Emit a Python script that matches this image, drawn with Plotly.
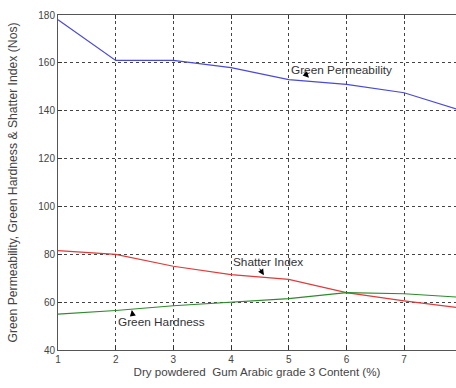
import plotly.graph_objects as go

x_content = [1, 2, 3, 4, 5, 6, 7, 8]
green_permeability = [178, 161, 161, 158, 153, 151, 147.5, 140]
shatter_index = [81.5, 80, 75, 71.5, 69.5, 64, 60.5, 57.5]
green_hardness = [55, 56.5, 58.5, 60, 61.5, 64, 63.5, 62]
x_ticks = [1, 2, 3, 4, 5, 6, 7, 8]
y_ticks = [40, 60, 80, 100, 120, 140, 160, 180]

FONT = "Liberation Sans, Arial, sans-serif"

fig = go.Figure()
fig.add_trace(go.Scatter(x=x_content, y=green_permeability, mode="lines",
                         line=dict(color="#4a4ad8", width=1.2), name="Green Permeability"))
fig.add_trace(go.Scatter(x=x_content, y=shatter_index, mode="lines",
                         line=dict(color="#e03a3a", width=1.2), name="Shatter Index"))
fig.add_trace(go.Scatter(x=x_content, y=green_hardness, mode="lines",
                         line=dict(color="#2e8a2e", width=1.2), name="Green Hardness"))

# labels: text, text x, text y, head x, head y, tail x, tail y
labels = [
    ("Green Permeability", 5.92, 157.1, 5.35, 153.75, 5.24, 156.6),
    ("Shatter Index", 4.64, 76.7, 4.57, 71.25, 4.48, 74.6),
    ("Green Hardness", 2.80, 51.7, 2.28, 56.7, 2.30, 53.9),
]
for txt, tx, ty, hx, hy, sx, sy in labels:
    fig.add_annotation(x=tx, y=ty, text=txt, showarrow=False,
                       font=dict(family=FONT, size=11.8, color="#333"))
    fig.add_annotation(x=hx, y=hy, ax=sx, ay=sy, axref="x", ayref="y",
                       text="", showarrow=True, arrowhead=2, arrowsize=1.2,
                       arrowwidth=1, arrowcolor="#000", standoff=0)

fig.update_layout(
    width=456, height=388,
    margin=dict(l=58, r=0, t=15, b=38, autoexpand=False),
    paper_bgcolor="white", plot_bgcolor="white",
    showlegend=False,
    font=dict(family=FONT, size=10, color="#444"),
)
fig.update_xaxes(
    range=[1, 7.9], tickvals=x_ticks, ticks="inside", ticklen=4, tickcolor="#333",
    showline=True, linecolor="#555", linewidth=1, mirror="ticks",
    showgrid=True, gridcolor="#444", griddash="dot", gridwidth=1,
    zeroline=False,
    title=dict(text="Dry powdered  Gum Arabic grade 3 Content (%)", standoff=3,
               font=dict(size=11.6, color="#444")),
)
fig.update_yaxes(
    range=[40, 180], tickvals=y_ticks, ticks="inside", ticklen=4, tickcolor="#333",
    showline=True, linecolor="#555", linewidth=1,
    showgrid=True, gridcolor="#444", griddash="dot", gridwidth=1,
    zeroline=False,
    title=dict(text="Green Permeability, Green Hardness & Shatter Index (Nos)", standoff=18,
               font=dict(size=12.2, color="#444")),
)

fig.write_html("out.html")
